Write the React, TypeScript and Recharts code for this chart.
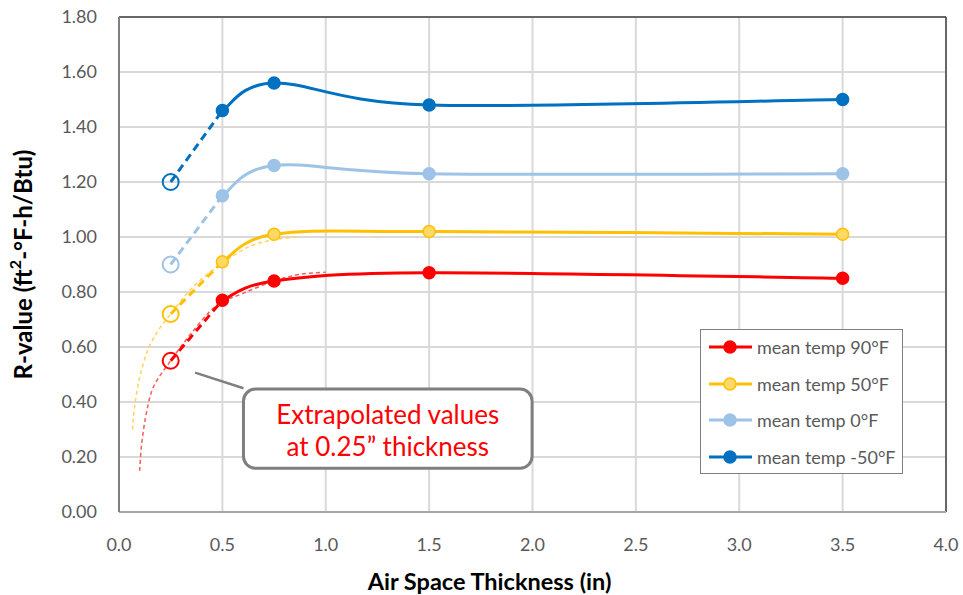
import React from 'react';
import {
  LineChart,
  Line,
  XAxis,
  YAxis,
  CartesianGrid,
  ReferenceLine,
  ReferenceArea,
  Legend,
  Label,
} from 'recharts';

// ---------- data ----------
const thickness = [0.5, 0.75, 1.5, 3.5];
const r90 = [0.77, 0.84, 0.87, 0.85];
const r50 = [0.91, 1.01, 1.02, 1.01];
const r0 = [1.15, 1.26, 1.23, 1.23];
const rMinus50 = [1.46, 1.56, 1.48, 1.5];

const extrapThickness = [0.25, 0.5];
const extrap90 = [0.55, 0.77];
const extrap50 = [0.72, 0.91];
const extrap0 = [0.9, 1.15];
const extrapMinus50 = [1.2, 1.46];

const trend90Thickness = [0.1, 0.11, 0.135, 0.17, 0.25, 0.35, 0.47, 0.6, 0.75, 0.875, 1.0];
const trend90R = [0.15, 0.25, 0.37, 0.46, 0.55, 0.65, 0.75, 0.795, 0.84, 0.864, 0.872];
const trend50Thickness = [0.065, 0.075, 0.1, 0.14, 0.19, 0.25, 0.36, 0.5, 0.63, 0.75, 0.86];
const trend50R = [0.3, 0.38, 0.49, 0.59, 0.66, 0.72, 0.82, 0.905, 0.965, 0.99, 1.0];

const xTicks = [0, 0.5, 1.0, 1.5, 2.0, 2.5, 3.0, 3.5, 4.0];
const yTicks = [0, 0.2, 0.4, 0.6, 0.8, 1.0, 1.2, 1.4, 1.6, 1.8];

const seriesNames = ['mean temp 90°F', 'mean temp 50°F', 'mean temp 0°F', 'mean temp -50°F'];
const xTitle = 'Air Space Thickness (in)';
const yTitleParts = ['R-value (ft', '2', '-°F-h/Btu)'];
const noteLines = ['Extrapolated values', 'at 0.25\u201d thickness'];

// ---------- styles ----------
const lineColors = ['#FF0000', '#FFC000', '#9DC3E6', '#0070C0'];
const markerFills = ['#FF0000', '#FFD966', '#9DC3E6', '#0070C0'];
const trendColors = ['#FF5A5A', '#FFD35C'];
const FONT = 'Lato, "Open Sans", sans-serif';

const zip = (xs: number[], ys: number[]) => xs.map((x, i) => ({ x, y: ys[i] }));

const mainData = [r90, r50, r0, rMinus50].map((ys) => zip(thickness, ys));
const extrapData = [extrap90, extrap50, extrap0, extrapMinus50].map((ys) => zip(extrapThickness, ys));
const trendData = [zip(trend90Thickness, trend90R), zip(trend50Thickness, trend50R)];

// Excel-like smoothed line (Catmull-Rom style bezier)
const excelSmooth: any = (context: any) => {
  let pts: number[][] = [];
  return {
    areaStart() {},
    areaEnd() {},
    lineStart() {
      pts = [];
    },
    point(x: number, y: number) {
      pts.push([+x, +y]);
    },
    lineEnd() {
      const n = pts.length;
      if (n === 0) return;
      context.moveTo(pts[0][0], pts[0][1]);
      for (let i = 0; i < n - 1; i++) {
        const p0 = pts[i > 0 ? i - 1 : i];
        const p1 = pts[i];
        const p2 = pts[i + 1];
        const p3 = pts[i + 2 < n ? i + 2 : i + 1];
        context.bezierCurveTo(
          p1[0] + (p2[0] - p0[0]) / 6,
          p1[1] + (p2[1] - p0[1]) / 6,
          p2[0] - (p3[0] - p1[0]) / 6,
          p2[1] - (p3[1] - p1[1]) / 6,
          p2[0],
          p2[1]
        );
      }
    },
  };
};

const LegendBox = () => (
  <div
    style={{
      position: 'relative',
      boxSizing: 'border-box',
      width: 203,
      height: 145,
      border: '1.5px solid #7F7F7F',
      background: '#fff',
      fontFamily: FONT,
    }}
  >
    {seriesNames.map((name, i) => (
      <div
        key={name}
        style={{
          position: 'absolute',
          left: 7,
          top: 6 + i * 36.5,
          height: 22,
          display: 'flex',
          alignItems: 'center',
          whiteSpace: 'nowrap',
        }}
      >
        <svg width={45} height={16} style={{ display: 'block' }}>
          <line x1={1} y1={8} x2={44} y2={8} stroke={lineColors[i]} strokeWidth={3} />
          <circle cx={22} cy={8} r={6} fill={markerFills[i]} stroke={lineColors[i]} strokeWidth={1.5} />
        </svg>
        <span style={{ marginLeft: 4, fontSize: 18, color: '#595959' }}>{name}</span>
      </div>
    ))}
  </div>
);

const openDot = (color: string) => (props: any) => {
  const { cx, cy, index } = props;
  if (index !== 0) return <g key={`d-${index}`} />;
  return <circle key={`d-${index}`} cx={cx} cy={cy} r={8} fill="none" stroke={color} strokeWidth={2} />;
};

export default function App() {
  return (
    <div style={{ width: 963, height: 595, fontFamily: FONT, background: '#fff' }}>
      <style>{'body{margin:0}'}</style>
      <LineChart width={963} height={595} margin={{ top: 17, right: 17, left: 0, bottom: 0 }}>
        <CartesianGrid stroke="#D9D9D9" strokeWidth={2} />
        <XAxis
          type="number"
          dataKey="x"
          domain={[0, 4]}
          ticks={xTicks}
          tickFormatter={(v: number) => v.toFixed(1)}
          allowDataOverflow
          height={83}
          tickLine={false}
          tickSize={0}
          tickMargin={26}
          axisLine={{ stroke: '#A6A6A6', strokeWidth: 2 }}
          tick={{ fontSize: 18, fill: '#595959', fontFamily: FONT }}
        >
          <Label
            content={(p: any) => {
              const vb = p.viewBox || {};
              return (
                <text
                  x={vb.x + vb.width / 2 - 43}
                  y={581}
                  textAnchor="middle"
                  dominantBaseline="central"
                  fontFamily={FONT}
                  fontWeight={700}
                  fontSize={23.5}
                  fill="#000"
                >
                  {xTitle}
                </text>
              );
            }}
          />
        </XAxis>
        <YAxis
          type="number"
          domain={[0, 1.8]}
          ticks={yTicks}
          tickFormatter={(v: number) => v.toFixed(2)}
          allowDataOverflow
          width={119}
          tickLine={false}
          tickSize={0}
          tickMargin={22}
          axisLine={{ stroke: '#7F7F7F', strokeWidth: 2 }}
          tick={{ fontSize: 18, fill: '#595959', fontFamily: FONT }}
        >
          <Label
            content={(p: any) => {
              const vb = p.viewBox || {};
              const cx = 22;
              const cy = vb.y + vb.height / 2;
              return (
                <text
                  x={cx}
                  y={cy}
                  transform={`rotate(-90 ${cx} ${cy})`}
                  textAnchor="middle"
                  dominantBaseline="central"
                  fontFamily={FONT}
                  fontWeight={700}
                  fontSize={24}
                  fill="#000"
                >
                  {yTitleParts[0]}
                  <tspan dy={-8} fontSize={16}>
                    {yTitleParts[1]}
                  </tspan>
                  <tspan dy={8}>{yTitleParts[2]}</tspan>
                </text>
              );
            }}
          />
        </YAxis>

        <ReferenceLine y={1.8} stroke="#404040" strokeWidth={1.5} />
        <ReferenceLine x={4} stroke="#404040" strokeWidth={1.5} />

        {trendData.map((d, i) => (
          <Line
            key={`trend-${i}`}
            data={d}
            dataKey="y"
            type={excelSmooth}
            stroke={trendColors[i]}
            strokeWidth={1.5}
            strokeDasharray="4 3"
            dot={false}
            activeDot={false}
            legendType="none"
            isAnimationActive={false}
          />
        ))}

        {extrapData.map((d, i) => (
          <Line
            key={`ext-${i}`}
            data={d}
            dataKey="y"
            type="linear"
            stroke={lineColors[i]}
            strokeWidth={3}
            strokeDasharray="8 5"
            dot={openDot(lineColors[i])}
            activeDot={false}
            legendType="none"
            isAnimationActive={false}
          />
        ))}

        {mainData.map((d, i) => (
          <Line
            key={`main-${i}`}
            name={seriesNames[i]}
            data={d}
            dataKey="y"
            type={excelSmooth}
            stroke={lineColors[i]}
            strokeWidth={3}
            dot={{ r: 6, fill: markerFills[i], stroke: lineColors[i], strokeWidth: 1.5 }}
            activeDot={false}
            isAnimationActive={false}
          />
        ))}

        <ReferenceLine
          segment={[
            { x: 0.368, y: 0.507 },
            { x: 0.602, y: 0.45 },
          ]}
          stroke="#7F7F7F"
          strokeWidth={2.5}
        />
        <ReferenceArea
          x1={0.602}
          x2={1.998}
          y1={0.159}
          y2={0.447}
          shape={(p: any) => (
            <g>
              <rect
                x={p.x}
                y={p.y}
                width={p.width}
                height={p.height}
                rx={12}
                ry={12}
                fill="#fff"
                stroke="#7F7F7F"
                strokeWidth={3}
              />
              <text
                x={p.x + p.width / 2}
                y={p.y + p.height / 2 - 15}
                textAnchor="middle"
                dominantBaseline="central"
                fill="#FF0000"
                fontSize={26}
                fontFamily={FONT}
              >
                {noteLines[0]}
              </text>
              <text
                x={p.x + p.width / 2}
                y={p.y + p.height / 2 + 17}
                textAnchor="middle"
                dominantBaseline="central"
                fill="#FF0000"
                fontSize={26}
                fontFamily={FONT}
              >
                {noteLines[1]}
              </text>
            </g>
          )}
        />

        <Legend
          layout="vertical"
          align="center"
          verticalAlign="middle"
          wrapperStyle={{ left: 700, top: 329, width: 203, height: 145 }}
          content={() => <LegendBox />}
        />
      </LineChart>
    </div>
  );
}
